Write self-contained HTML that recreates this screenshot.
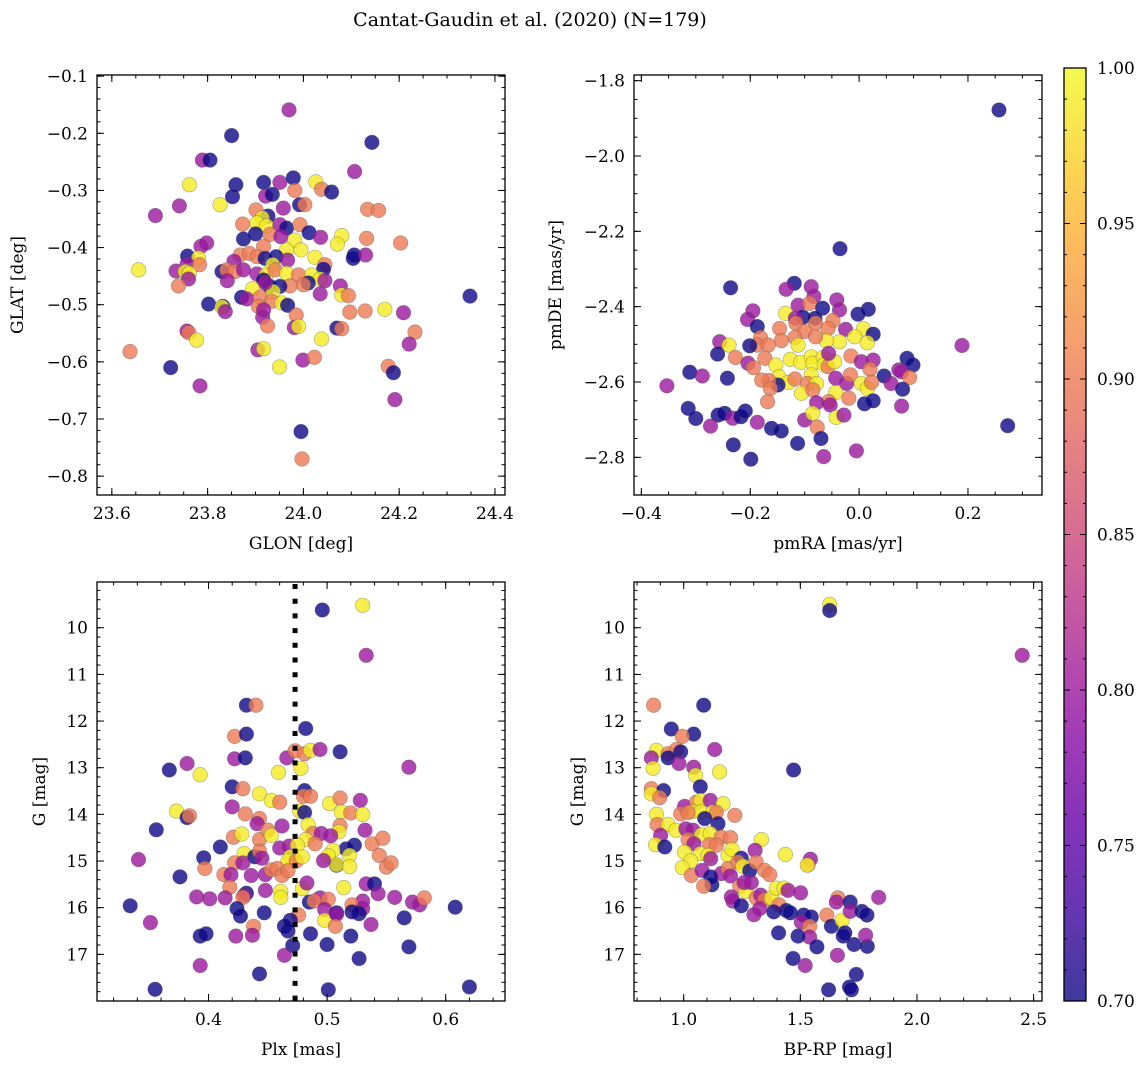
<!DOCTYPE html>
<html><head><meta charset="utf-8"><style>
html,body{margin:0;padding:0;background:#fff;}
svg{display:block;font-family:"DejaVu Serif","Liberation Serif",serif;}
</style></head><body>
<svg id="fig" width="1148" height="1068" viewBox="0 0 1148 1068" xmlns="http://www.w3.org/2000/svg">
<text x="530" y="26" font-size="19" text-anchor="middle">Cantat-Gaudin et al. (2020) (N=179)</text>
</svg>
<script>
// ---------- data (codes: 0.70 navy, 0.80 purple, 0.90 salmon, 0.99 yellow) ----------
const glon=[23.970,23.850,24.143,23.789,23.805,24.107,23.762,23.859,23.917,23.951,23.979,24.026,24.038,24.059,23.982,23.921,23.935,23.852,23.826,23.741,23.691,23.958,23.992,24.003,23.901,24.134,24.157,23.926,23.914,23.903,23.923,23.873,23.951,23.965,23.993,23.930,23.900,23.875,23.953,24.012,24.036,24.080,24.071,24.132,24.203,23.982,23.995,23.917,23.965,23.798,23.786,23.758,23.781,23.757,23.783,23.656,23.734,23.753,23.762,23.760,23.739,24.106,24.104,24.130,24.024,24.045,24.042,23.868,23.887,23.903,23.920,23.943,23.967,23.936,23.855,23.830,23.840,23.857,23.875,23.903,23.922,23.917,23.941,23.965,23.990,24.017,24.035,24.045,24.010,24.000,23.972,23.951,23.930,23.937,23.920,23.894,23.841,23.871,23.882,23.910,23.934,23.955,23.967,24.035,24.077,24.080,24.094,23.802,23.832,23.830,23.837,23.906,23.915,23.917,23.925,23.985,23.981,23.990,24.097,24.129,24.170,24.209,24.233,24.221,24.038,24.070,24.080,23.757,23.761,23.777,23.638,23.905,23.917,23.950,23.999,24.023,23.723,24.177,24.188,23.784,24.191,23.995,23.997,24.348];
const glat=[-0.159,-0.204,-0.216,-0.247,-0.247,-0.267,-0.290,-0.290,-0.286,-0.286,-0.278,-0.285,-0.298,-0.303,-0.300,-0.310,-0.307,-0.311,-0.325,-0.327,-0.344,-0.331,-0.325,-0.325,-0.334,-0.333,-0.335,-0.345,-0.348,-0.357,-0.362,-0.359,-0.360,-0.366,-0.360,-0.377,-0.376,-0.385,-0.381,-0.374,-0.382,-0.379,-0.394,-0.384,-0.392,-0.387,-0.404,-0.398,-0.404,-0.392,-0.398,-0.415,-0.418,-0.429,-0.430,-0.439,-0.441,-0.442,-0.445,-0.455,-0.467,-0.413,-0.419,-0.413,-0.417,-0.430,-0.438,-0.413,-0.410,-0.416,-0.419,-0.416,-0.422,-0.430,-0.424,-0.442,-0.439,-0.442,-0.439,-0.446,-0.448,-0.457,-0.439,-0.445,-0.448,-0.448,-0.455,-0.458,-0.462,-0.465,-0.467,-0.468,-0.468,-0.477,-0.462,-0.472,-0.458,-0.487,-0.490,-0.487,-0.494,-0.497,-0.501,-0.481,-0.467,-0.483,-0.484,-0.499,-0.503,-0.504,-0.512,-0.503,-0.522,-0.509,-0.537,-0.518,-0.540,-0.538,-0.513,-0.511,-0.508,-0.514,-0.548,-0.569,-0.560,-0.541,-0.542,-0.546,-0.549,-0.562,-0.582,-0.579,-0.577,-0.609,-0.597,-0.592,-0.610,-0.608,-0.619,-0.642,-0.666,-0.722,-0.770,-0.485];
const prob1=[.80,.70,.70,.80,.70,.80,.99,.70,.70,.80,.70,.99,.90,.70,.90,.80,.70,.70,.99,.80,.80,.80,.70,.90,.90,.90,.90,.70,.99,.99,.99,.90,.80,.70,.90,.90,.70,.70,.80,.70,.80,.99,.99,.90,.90,.99,.99,.90,.99,.80,.80,.70,.99,.80,.90,.99,.80,.99,.99,.80,.90,.70,.70,.80,.99,.90,.70,.90,.90,.90,.70,.70,.80,.99,.80,.70,.90,.90,.80,.80,.99,.70,.90,.99,.90,.99,.99,.80,.70,.90,.90,.70,.70,.99,.80,.99,.80,.70,.80,.90,.90,.99,.70,.80,.80,.99,.90,.70,.70,.99,.80,.90,.80,.80,.90,.90,.80,.99,.90,.90,.99,.80,.90,.80,.99,.70,.90,.80,.90,.99,.90,.80,.99,.99,.80,.90,.70,.90,.70,.80,.80,.70,.90,.70];

const pmra=[0.257,-0.035,0.273,0.189,-0.353,-0.236,-0.119,-0.134,-0.088,-0.083,-0.112,-0.091,-0.067,-0.041,-0.036,-0.002,0.017,-0.195,-0.205,-0.187,-0.135,-0.103,-0.117,-0.116,-0.081,-0.080,-0.048,-0.057,-0.100,-0.146,-0.025,0.008,0.026,-0.008,0.015,-0.036,-0.060,-0.080,-0.118,-0.143,-0.112,-0.181,-0.187,-0.201,-0.167,-0.256,-0.239,-0.260,-0.227,-0.204,-0.194,-0.173,-0.153,-0.126,-0.107,-0.088,-0.085,-0.066,-0.064,-0.057,-0.045,-0.015,-0.056,0.004,0.026,0.020,0.088,0.099,0.073,0.078,0.093,0.046,0.059,0.080,-0.147,-0.130,-0.118,-0.088,-0.095,-0.078,-0.106,-0.085,-0.043,-0.023,-0.016,0.004,0.015,0.023,-0.149,-0.166,-0.179,-0.163,-0.168,-0.043,-0.056,-0.053,-0.078,-0.019,0.010,0.026,0.078,-0.311,-0.288,-0.242,-0.314,-0.300,-0.259,-0.247,-0.232,-0.217,-0.209,-0.273,-0.187,-0.161,-0.143,-0.100,-0.085,-0.077,-0.042,-0.028,-0.070,-0.231,-0.113,-0.199,-0.065,-0.005];
const pmde=[-1.878,-2.246,-2.716,-2.503,-2.610,-2.350,-2.338,-2.354,-2.347,-2.373,-2.396,-2.391,-2.404,-2.382,-2.409,-2.420,-2.407,-2.411,-2.434,-2.453,-2.418,-2.428,-2.431,-2.444,-2.431,-2.444,-2.437,-2.458,-2.466,-2.458,-2.460,-2.459,-2.473,-2.480,-2.496,-2.493,-2.491,-2.480,-2.482,-2.490,-2.502,-2.482,-2.502,-2.504,-2.502,-2.493,-2.502,-2.526,-2.535,-2.550,-2.562,-2.537,-2.555,-2.540,-2.548,-2.533,-2.550,-2.535,-2.555,-2.559,-2.546,-2.531,-2.524,-2.546,-2.542,-2.566,-2.537,-2.555,-2.568,-2.573,-2.588,-2.584,-2.604,-2.619,-2.586,-2.601,-2.592,-2.581,-2.604,-2.604,-2.630,-2.621,-2.590,-2.604,-2.581,-2.604,-2.617,-2.601,-2.608,-2.596,-2.595,-2.617,-2.652,-2.628,-2.652,-2.661,-2.655,-2.643,-2.658,-2.650,-2.664,-2.574,-2.584,-2.590,-2.670,-2.697,-2.688,-2.683,-2.696,-2.692,-2.677,-2.717,-2.707,-2.723,-2.730,-2.701,-2.683,-2.720,-2.694,-2.688,-2.750,-2.767,-2.763,-2.805,-2.798,-2.783];
const prob2=[.70,.70,.70,.80,.80,.70,.70,.80,.80,.80,.80,.90,.70,.80,.80,.70,.70,.80,.80,.70,.99,.70,.80,.90,.70,.90,.90,.90,.90,.90,.80,.99,.70,.99,.99,.99,.99,.90,.90,.90,.99,.90,.90,.70,.90,.80,.99,.70,.90,.80,.90,.90,.99,.99,.99,.99,.99,.99,.99,.90,.99,.90,.80,.80,.80,.90,.70,.70,.80,.80,.90,.70,.80,.70,.99,.99,.90,.99,.90,.99,.99,.90,.80,.80,.90,.99,.99,.90,.70,.90,.90,.90,.90,.99,.90,.80,.80,.90,.70,.70,.80,.70,.80,.70,.70,.70,.70,.70,.80,.70,.70,.80,.80,.70,.70,.80,.99,.90,.99,.80,.70,.70,.70,.70,.80,.80];

const plx=[0.496,0.530,0.533,0.432,0.440,0.482,0.422,0.432,0.422,0.431,0.511,0.466,0.473,0.481,0.486,0.494,0.367,0.382,0.393,0.459,0.478,0.569,0.420,0.429,0.443,0.453,0.460,0.481,0.480,0.486,0.420,0.431,0.443,0.441,0.373,0.382,0.384,0.477,0.481,0.502,0.511,0.528,0.512,0.520,0.530,0.356,0.341,0.334,0.421,0.428,0.443,0.450,0.453,0.462,0.484,0.488,0.495,0.482,0.490,0.511,0.510,0.503,0.532,0.410,0.396,0.397,0.376,0.430,0.439,0.443,0.445,0.422,0.429,0.460,0.468,0.475,0.469,0.467,0.474,0.479,0.516,0.523,0.519,0.505,0.501,0.508,0.508,0.519,0.497,0.538,0.547,0.544,0.550,0.554,0.413,0.419,0.436,0.448,0.453,0.458,0.462,0.467,0.418,0.432,0.430,0.429,0.448,0.461,0.461,0.479,0.483,0.390,0.401,0.414,0.485,0.494,0.501,0.489,0.514,0.533,0.540,0.543,0.530,0.521,0.530,0.527,0.521,0.557,0.572,0.578,0.582,0.608,0.565,0.569,0.620,0.424,0.427,0.447,0.351,0.476,0.464,0.467,0.469,0.498,0.498,0.508,0.508,0.507,0.537,0.393,0.398,0.438,0.423,0.437,0.486,0.500,0.520,0.527,0.471,0.464,0.393,0.443,0.355,0.501];
const gmag3=[9.62,9.52,10.59,11.66,11.66,12.16,12.33,12.28,12.81,12.79,12.66,12.79,12.64,12.70,12.63,12.61,13.05,12.91,13.15,13.10,13.01,12.99,13.41,13.45,13.56,13.70,13.74,13.49,13.61,13.61,13.84,13.99,14.09,14.2,13.93,14.07,14.03,13.93,13.96,13.77,13.65,13.7,13.95,13.97,14.0,14.33,14.97,15.96,14.49,14.42,14.54,14.34,14.45,14.25,14.22,14.41,14.41,14.54,14.63,14.24,14.37,14.46,14.34,14.70,14.93,15.16,15.34,14.84,14.91,14.79,14.94,15.04,15.04,14.72,14.68,14.66,14.91,15.0,15.0,14.91,14.74,14.66,14.88,14.77,14.89,15.09,15.08,15.12,14.99,14.63,14.51,14.88,15.13,15.04,15.29,15.29,15.31,15.29,15.19,15.16,15.31,15.21,15.56,15.69,15.74,15.78,15.63,15.65,15.78,15.59,15.47,15.77,15.81,15.79,15.88,15.79,15.82,15.86,15.57,15.49,15.49,15.70,15.86,15.94,16.02,16.13,16.09,15.78,15.88,15.94,15.79,15.99,16.22,16.84,17.70,16.02,16.18,16.11,16.32,16.16,16.4,16.5,16.27,16.04,16.27,16.11,16.14,16.4,16.36,16.61,16.56,16.4,16.61,16.59,16.56,16.79,16.61,17.09,16.81,17.02,17.24,17.42,17.75,17.76];
const prob3=[.70,.99,.80,.70,.90,.70,.90,.70,.80,.70,.70,.80,.90,.90,.99,.80,.70,.80,.99,.99,.99,.80,.70,.90,.99,.99,.90,.70,.90,.90,.80,.90,.90,.80,.99,.70,.90,.99,.70,.99,.90,.80,.99,.90,.99,.70,.80,.70,.90,.99,.90,.90,.99,.80,.99,.90,.80,.99,.90,.90,.99,.80,.80,.70,.70,.90,.70,.99,.70,.90,.80,.90,.80,.80,.80,.99,.99,.99,.90,.99,.70,.70,.99,.99,.99,.70,.99,.99,.80,.90,.90,.90,.90,.90,.90,.80,.80,.80,.90,.90,.90,.90,.90,.70,.80,.90,.80,.99,.99,.99,.80,.80,.80,.80,.70,.80,.90,.90,.99,.80,.70,.80,.80,.90,.80,.70,.70,.80,.80,.80,.90,.70,.70,.70,.70,.70,.70,.70,.80,.90,.70,.70,.70,.80,.99,.70,.80,.90,.80,.70,.70,.90,.80,.80,.70,.70,.70,.70,.70,.80,.80,.70,.70,.70];

const bprp=[1.626,1.626,2.451,0.871,1.086,0.947,1.043,0.994,0.883,0.933,0.969,0.987,0.861,0.933,0.98,1.133,0.869,1.043,1.051,1.154,1.471,1.071,0.861,0.914,0.861,0.897,1.004,1.054,1.073,1.114,1.169,1.037,1.073,1.126,1.140,1.219,0.987,1.019,0.883,1.090,1.147,0.886,0.933,0.966,1.009,1.040,0.901,1.076,1.114,1.019,1.161,1.201,1.333,0.880,0.919,1.044,1.111,1.140,1.004,1.071,1.104,1.116,1.190,1.207,1.306,1.436,1.543,1.533,1.530,1.030,0.994,1.033,1.079,1.161,1.190,1.201,1.247,1.233,1.254,1.283,1.311,1.347,1.369,1.116,1.121,1.086,1.240,1.266,1.290,1.259,1.204,1.211,1.247,1.311,1.330,1.347,1.376,1.397,1.430,1.447,1.409,1.301,1.326,1.386,1.440,1.457,1.501,1.514,1.547,1.504,1.540,1.540,1.407,1.490,1.571,1.469,1.521,1.614,1.633,1.661,1.654,1.679,1.714,1.714,1.764,1.786,1.836,1.691,1.684,1.730,1.787,1.780,1.659,1.740,1.621,1.711,1.719];
const gmag4=[9.5,9.63,10.59,11.66,11.66,12.17,12.28,12.33,12.63,12.7,12.61,12.66,12.79,12.79,12.91,12.61,13.01,12.99,13.16,13.09,13.05,13.41,13.45,13.49,13.56,13.64,13.83,13.74,13.7,13.7,13.77,13.94,13.95,13.95,13.96,14.02,13.99,13.96,14.0,14.09,14.2,14.22,14.22,14.34,14.31,14.34,14.45,14.44,14.41,14.54,14.49,14.5,14.54,14.65,14.7,14.63,14.65,14.66,14.81,14.84,14.88,14.95,14.88,14.75,14.77,14.86,14.96,15.08,15.09,15.0,15.14,15.31,15.2,15.27,15.16,15.32,14.94,15.02,15.11,15.21,15.02,15.2,15.29,15.34,15.51,15.54,15.54,15.65,15.46,15.46,15.77,15.86,15.96,15.79,15.73,15.83,15.79,15.58,15.58,15.63,15.94,16.15,16.02,16.09,16.06,16.11,15.68,16.16,16.2,16.31,16.4,16.63,16.54,16.61,16.84,17.09,17.24,16.16,16.4,15.79,15.88,16.27,15.88,16.08,16.08,16.16,15.78,16.54,16.61,16.79,16.83,16.59,17.02,17.43,17.76,17.7,17.76];
const prob4=[.99,.70,.80,.90,.70,.70,.70,.90,.99,.90,.90,.70,.80,.70,.80,.80,.99,.80,.99,.99,.70,.70,.90,.70,.99,.90,.80,.90,.99,.80,.99,.99,.99,.99,.90,.90,.90,.90,.99,.70,.70,.90,.99,.99,.80,.80,.80,.99,.99,.90,.90,.90,.99,.99,.70,.80,.90,.90,.99,.99,.99,.80,.99,.99,.80,.99,.80,.90,.99,.99,.99,.90,.80,.80,.90,.80,.70,.90,.99,.70,.90,.90,.90,.70,.70,.90,.90,.99,.80,.80,.80,.80,.70,.90,.80,.90,.99,.99,.99,.80,.90,.80,.80,.70,.70,.70,.80,.70,.70,.80,.90,.80,.70,.70,.70,.70,.80,.90,.70,.90,.80,.99,.70,.80,.70,.70,.80,.70,.70,.70,.70,.80,.80,.70,.70,.70,.70];

const plxCut=[0.473];
const cbarTicks=[0.70,0.75,0.80,0.85,0.90,0.95,1.00];

// ---------- rendering ----------
const NS="http://www.w3.org/2000/svg";
const svg=document.getElementById('fig');
const stops=[[0,'#0d0887'],[.1,'#41049d'],[.2,'#6a00a8'],[.3,'#8f0da4'],[.4,'#b12a90'],[.5,'#cc4778'],[.6,'#e16462'],[.7,'#f2844b'],[.8,'#fca636'],[.9,'#fcce25'],[1,'#f0f921']];
function hex(h){return [1,3,5].map(i=>parseInt(h.substr(i,2),16));}
function plasma(p){let t=Math.max(0,Math.min(1,(p-0.7)/0.3));for(let i=1;i<stops.length;i++){if(t<=stops[i][0]){const a=stops[i-1],b=stops[i];const f=(t-a[0])/(b[0]-a[0]);const ca=hex(a[1]),cb=hex(b[1]);return 'rgb('+ca.map((v,k)=>Math.round(v+(cb[k]-v)*f)).join(',')+')';}}return stops[10][1];}
function el(tag,attrs,parent){const e=document.createElementNS(NS,tag);for(const k in attrs)e.setAttribute(k,attrs[k]);(parent||svg).appendChild(e);return e;}
function fmt(v,d){return (v<0?'\u2212':'')+Math.abs(v).toFixed(d);}

function panel(o){
  const g=el('g',{});
  
  
  const sx=v=>o.x0+(v-o.xd[0])/(o.xd[1]-o.xd[0])*(o.x1-o.x0);
  const sy=v=>o.y0+(v-o.yd[0])/(o.yd[1]-o.yd[0])*(o.y1-o.y0);
  const n=Math.min(o.xs.length,o.ys.length,o.ps.length);
  for(let i=0;i<n;i++){
    const c=el('circle',{cx:sx(o.xs[i]).toFixed(1),cy:sy(o.ys[i]).toFixed(1),r:7.3,fill:plasma(o.ps[i]),'fill-opacity':0.8,stroke:'rgba(70,70,70,0.45)','stroke-width':0.6},g);
    
    
  }
  if(o.extra)o.extra(g,sx,sy);
  const eps=1e-9;
  function ticksX(step,len){const s=Math.ceil(Math.min(...o.xd)/step-eps);for(let k=s;k*step<=Math.max(...o.xd)+eps;k++){const x=sx(k*step);el('line',{x1:x,x2:x,y1:o.y1,y2:o.y1-len,stroke:'#000','stroke-width':1},g);el('line',{x1:x,x2:x,y1:o.y0,y2:o.y0+len,stroke:'#000','stroke-width':1},g);}}
  function ticksY(step,len){const lo=Math.min(...o.yd),hi=Math.max(...o.yd);const s=Math.ceil(lo/step-eps);for(let k=s;k*step<=hi+eps;k++){const y=sy(k*step);el('line',{x1:o.x0,x2:o.x0+len,y1:y,y2:y,stroke:'#000','stroke-width':1},g);el('line',{x1:o.x1,x2:o.x1-len,y1:y,y2:y,stroke:'#000','stroke-width':1},g);}}
  ticksX(o.xminor,3.5);ticksX(o.xmajor,7);ticksY(o.yminor,3.5);ticksY(o.ymajor,7);
  const fr=el('rect',{x:o.x0,y:o.y0,width:o.x1-o.x0,height:o.y1-o.y0,fill:'none',stroke:'#000','stroke-width':1.3},g);
  
  
  o.xticks.forEach(v=>{const t=el('text',{x:sx(v),y:o.y1+24,'font-size':17,'text-anchor':'middle'},g);t.textContent=fmt(v,o.xdec);});
  o.yticks.forEach(v=>{const t=el('text',{x:o.x0-9,y:sy(v)+6,'font-size':17,'text-anchor':'end'},g);t.textContent=fmt(v,o.ydec);});
  const xl=el('text',{x:(o.x0+o.x1)/2,y:o.y1+54,'font-size':17,'text-anchor':'middle'},g);xl.textContent=o.xlabel;
  
  
  const yc=(o.y0+o.y1)/2;
  const yl=el('text',{x:o.ylx,y:yc,'font-size':17,'text-anchor':'middle',transform:'rotate(-90 '+o.ylx+' '+yc+')'},g);yl.textContent=o.ylabel;
  
  
}
const rng=(a,b,s)=>{const r=[];for(let v=a;v<=b+1e-9;v+=s)r.push(Math.round(v*1000)/1000);return r;};

panel({name:'panel-position',x0:97,x1:505,y0:75,y1:495,xd:[23.569,24.421],yd:[-0.098,-0.833],xs:glon,ys:glat,ps:prob1,
 xmajor:0.2,xminor:0.05,ymajor:0.1,yminor:0.02,xticks:rng(23.6,24.4,0.2),yticks:[-0.1,-0.2,-0.3,-0.4,-0.5,-0.6,-0.7,-0.8],xdec:1,ydec:1,
 xlabel:'GLON [deg]',ylabel:'GLAT [deg]',ylx:23});
panel({name:'panel-proper-motion',x0:634,x1:1042,y0:75,y1:495,xd:[-0.4135,0.336],yd:[-1.785,-2.900],xs:pmra,ys:pmde,ps:prob2,
 xmajor:0.2,xminor:0.05,ymajor:0.2,yminor:0.05,xticks:[-0.4,-0.2,0,0.2],yticks:[-1.8,-2.0,-2.2,-2.4,-2.6,-2.8],xdec:1,ydec:1,
 xlabel:'pmRA [mas/yr]',ylabel:'pmDE [mas/yr]',ylx:561});
panel({name:'panel-parallax-mag',x0:97,x1:505,y0:582,y1:1001,xd:[0.306,0.650],yd:[9.02,18.0],xs:plx,ys:gmag3,ps:prob3,
 xmajor:0.1,xminor:0.02,ymajor:1,yminor:0.2,xticks:[0.4,0.5,0.6],yticks:rng(10,17,1),xdec:1,ydec:0,
 xlabel:'Plx [mas]',ylabel:'G [mag]',ylx:45,
 extra:(g,sx,sy)=>{plxCut.forEach(v=>{const l=el('line',{x1:sx(v),x2:sx(v),y1:582,y2:1001,stroke:'#000','stroke-width':5,'stroke-dasharray':'5,9.7','stroke-dashoffset':'-2'},g);});}});
panel({name:'panel-cmd',x0:634,x1:1042,y0:582,y1:1001,xd:[0.787,2.536],yd:[9.02,18.0],xs:bprp,ys:gmag4,ps:prob4,
 xmajor:0.5,xminor:0.1,ymajor:1,yminor:0.2,xticks:[1.0,1.5,2.0,2.5],yticks:rng(10,17,1),xdec:1,ydec:0,
 xlabel:'BP-RP [mag]',ylabel:'G [mag]',ylx:583});

// colorbar
const defs=el('defs',{});
const lg=el('linearGradient',{id:'pl',x1:0,y1:1,x2:0,y2:0},defs);
stops.forEach(s=>el('stop',{offset:s[0],'stop-color':s[1],'stop-opacity':0.8},lg));
const cb=el('g',{});


const cx0=1064,cx1=1086,cy0=68,cy1=1001;
el('rect',{x:cx0,y:cy0,width:cx1-cx0,height:cy1-cy0,fill:'url(#pl)'},cb);
const cy=v=>cy1-(v-0.7)/0.3*(cy1-cy0);
for(let k=70;k<=100;k++){const y=cy(k/100);const big=k%5===0;el('line',{x1:cx1,x2:cx1-(big?6:3),y1:y,y2:y,stroke:'#000','stroke-width':1},cb);el('line',{x1:cx0,x2:cx0+(big?6:3),y1:y,y2:y,stroke:'#000','stroke-width':1},cb);}
el('rect',{x:cx0,y:cy0,width:cx1-cx0,height:cy1-cy0,fill:'none',stroke:'#000','stroke-width':1.3},cb);
cbarTicks.forEach(v=>{const t=el('text',{x:1097,y:cy(v)+6,'font-size':17},cb);t.textContent=v.toFixed(2);});
</script>
</body></html>
